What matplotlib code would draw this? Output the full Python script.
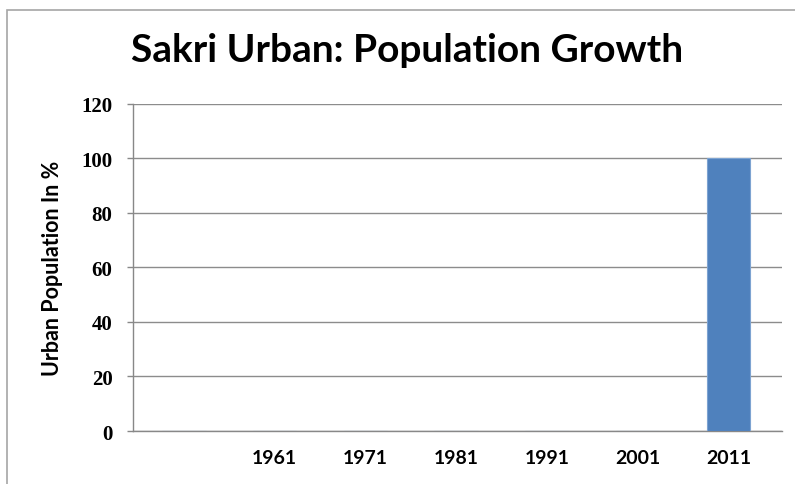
import matplotlib
matplotlib.use("Agg")
import matplotlib.pyplot as plt
from matplotlib.patches import Rectangle

categories = ["", "1961", "1971", "1981", "1991", "2001", "2011"]
values = [0, 0, 0, 0, 0, 0, 100]
yticks = [0, 20, 40, 60, 80, 100, 120]

fig = plt.figure(figsize=(7.95, 4.85), dpi=100)
fig.patch.set_facecolor("white")

# outer chart border
fig.patches.append(Rectangle((7/795, -0.1), 1.2, 1 - 11/485 + 0.1, transform=fig.transFigure,
                             fill=False, edgecolor="#a6a6a6", linewidth=1.2))

ax = fig.add_axes([133/795, 1 - 432/485, (782 - 133)/795, (432 - 104.7)/485])
x = list(range(len(categories)))
ax.bar(x, values, width=0.48, color="#4F81BD", edgecolor="#7da3d1", linewidth=0.8, zorder=3)

ax.set_xlim(-0.56, 6.59)
ax.set_ylim(0, 120)
ax.set_yticks(yticks)
ax.set_yticklabels([str(v) for v in yticks], fontfamily="Liberation Serif", fontweight="bold", fontsize=15)
ax.set_xticks(x)
ax.set_xticklabels(categories, fontfamily="Lato", fontweight="bold", fontsize=14)
ax.tick_params(axis="x", length=0, pad=13)
ax.tick_params(axis="y", length=4.3, width=1, color="#888888", direction="out", pad=10.5)

ax.grid(axis="y", color="#8c8c8c", linewidth=1, zorder=0)
for s in ["top", "right"]:
    ax.spines[s].set_visible(False)
ax.spines["left"].set_color("#888888")
ax.spines["bottom"].set_color("#888888")
ax.spines["left"].set_linewidth(1)
ax.spines["bottom"].set_linewidth(1)

ax.set_ylabel("Urban Population In %", fontfamily="Lato", fontweight="bold", fontsize=15.5, labelpad=13)

fig.text(407/795, 1 - 51/485, "Sakri Urban: Population Growth", ha="center", va="center",
         fontfamily="Lato", fontweight="bold", fontsize=28)

fig.savefig("out.png", dpi=100)
